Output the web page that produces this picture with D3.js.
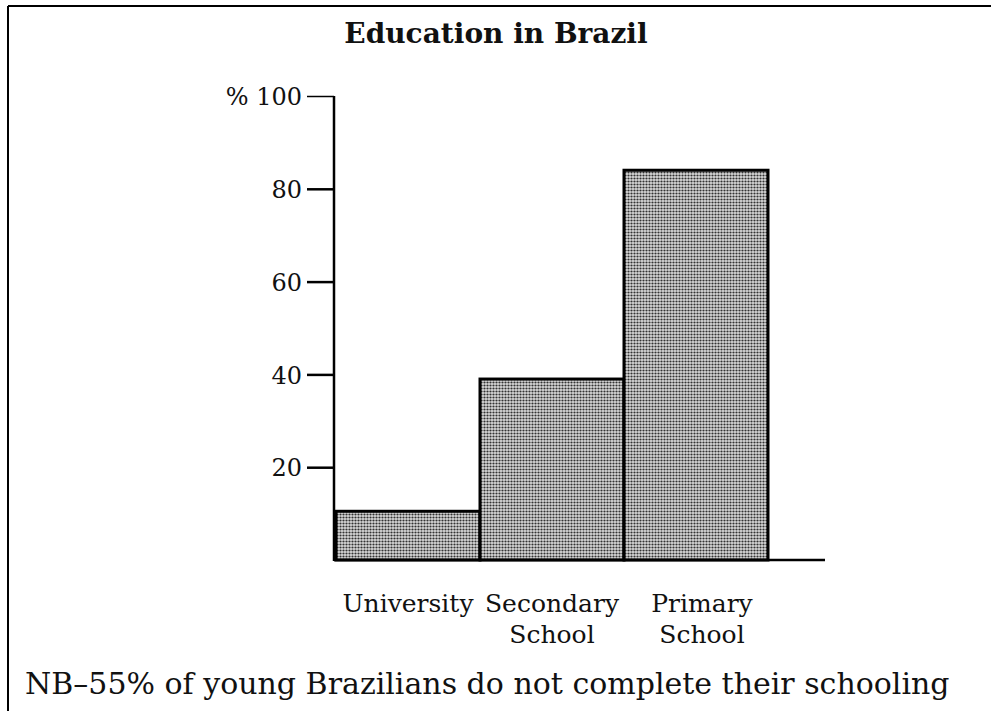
<!DOCTYPE html>
<html>
<head>
<meta charset="utf-8">
<script src="https://cdn.jsdelivr.net/npm/d3@7"></script>
<style>
  body { margin: 0; background: #fff; }
  svg text { font-family: "DejaVu Serif", "Liberation Serif", serif; fill: #111; }
</style>
</head>
<body>
<script>
var width = 991,
    height = 711;

// data
var categories = ["University", "Secondary School", "Primary School"];
var labelLines = [["University"], ["Secondary", "School"], ["Primary", "School"]];
var values = [10.5, 39, 84];
var tickValues = [20, 40, 60, 80, 100];
var title = "Education in Brazil";
var note = "NB\u201355% of young Brazilians do not complete their schooling";

var svg = d3.select("body").append("svg")
            .attr("width", width)
            .attr("height", height);

// stippled grey fill like the printed halftone
var defs = svg.append("defs");
var pat = defs.append("pattern")
              .attr("id", "stipple")
              .attr("patternUnits", "userSpaceOnUse")
              .attr("width", 3)
              .attr("height", 3);
pat.append("rect").attr("width", 3).attr("height", 3).attr("fill", "#d9d9d9");
pat.append("circle").attr("cx", 1.5).attr("cy", 1.5).attr("r", 1.1).attr("fill", "#333");

// frame, top and left edges only
svg.append("line").attr("x1", 8).attr("x2", width).attr("y1", 6).attr("y2", 6)
   .attr("stroke", "#000").attr("stroke-width", 2);
svg.append("line").attr("x1", 8).attr("x2", 8).attr("y1", 6).attr("y2", height)
   .attr("stroke", "#000").attr("stroke-width", 2);

var x = d3.scaleBand()
          .domain(categories)
          .range([336, 768])
          .padding(0);

var y = d3.scaleLinear()
          .domain([0, 100])
          .range([560, 96]);

var axisX = 334;

// bars
svg.selectAll("rect.bar")
   .data(values)
   .enter()
   .append("rect")
   .attr("class", "bar")
   .attr("x", function(d, i) { return x(categories[i]); })
   .attr("y", function(d) { return y(d); })
   .attr("width", x.bandwidth())
   .attr("height", function(d) { return y(0) - y(d); })
   .attr("fill", "url(#stipple)")
   .attr("stroke", "#000")
   .attr("stroke-width", 3);

// y axis
var yAxis = d3.axisLeft(y)
              .tickValues(tickValues)
              .tickSize(27)
              .tickPadding(5)
              .tickFormat(function(d) { return d === 100 ? "% 100" : d; });

var gy = svg.append("g")
            .attr("transform", "translate(" + axisX + ",0)")
            .call(yAxis);
gy.select(".domain").remove();
gy.selectAll(".tick line").attr("stroke", "#000").attr("stroke-width", 2.5);
gy.selectAll(".tick text")
  .attr("fill", "#111")
  .style("font-size", "24px")
  .attr("dy", "0.36em");
gy.select(".tick:last-of-type line").attr("stroke-width", 1.5);

svg.append("line")
   .attr("x1", axisX).attr("x2", axisX)
   .attr("y1", y(100)).attr("y2", y(0) + 1)
   .attr("stroke", "#000").attr("stroke-width", 2.5);

// baseline runs past the last bar
svg.append("line")
   .attr("x1", axisX).attr("x2", 825)
   .attr("y1", y(0)).attr("y2", y(0))
   .attr("stroke", "#000").attr("stroke-width", 2.5);

// category labels
var lab = svg.selectAll("text.cat")
   .data(labelLines)
   .enter()
   .append("text")
   .attr("class", "cat")
   .attr("text-anchor", "middle")
   .style("font-size", "25px")
   .attr("x", function(d, i) { return x(categories[i]) + x.bandwidth() / 2 + (i === 2 ? 6 : 0); })
   .attr("y", 612);
lab.selectAll("tspan")
   .data(function(d) { return d; })
   .enter()
   .append("tspan")
   .attr("x", function() { return d3.select(this.parentNode).attr("x"); })
   .attr("dy", function(d, i) { return i === 0 ? 0 : 31; })
   .text(function(d) { return d; });

// title
svg.append("text")
   .attr("x", 496)
   .attr("y", 43)
   .attr("text-anchor", "middle")
   .style("font-size", "28px")
   .style("font-weight", "bold")
   .text(title);

// footnote
svg.append("text")
   .attr("x", 25)
   .attr("y", 694)
   .style("font-size", "30px")
   .text(note);
</script>
</body>
</html>
